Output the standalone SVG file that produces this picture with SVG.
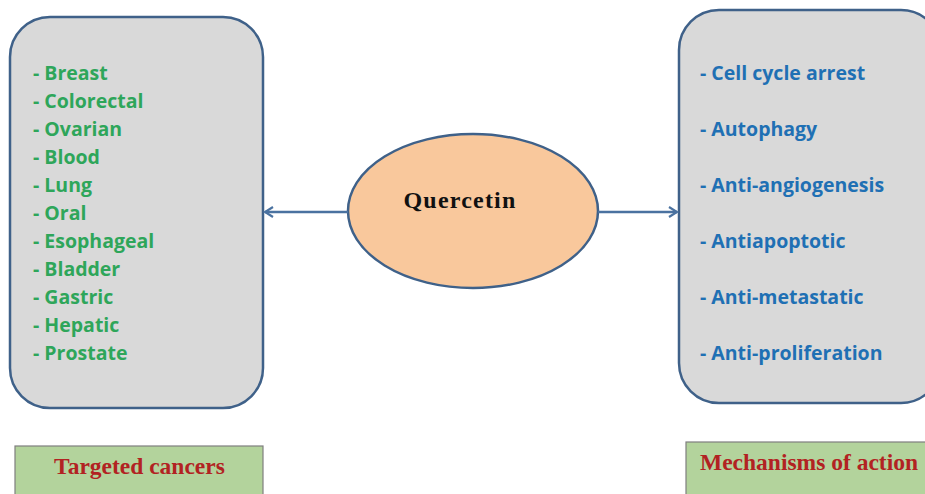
<svg xmlns="http://www.w3.org/2000/svg" width="925" height="494" viewBox="0 0 925 494">
  <defs>
    <style>
      .panel { fill: #d9d9d9; stroke: #3f6189; stroke-width: 2.5; }
      .tag { fill: #b3d39c; stroke: #7f7f7f; stroke-width: 1.2; }
      .green { font-family: "Open Sans", "Liberation Sans", sans-serif; font-weight: bold; font-size: 19.5px; fill: #2ea65a; }
      .blue { font-family: "Open Sans", "Liberation Sans", sans-serif; font-weight: bold; font-size: 19.5px; fill: #1f70b4; }
      .title { font-family: "Liberation Serif", serif; font-weight: bold; font-size: 23.5px; fill: #b22222; }
      .link { stroke: #4a72a0; stroke-width: 2.5; fill: none; }
    </style>
    <marker id="arrow" viewBox="0 0 12 12" refX="10" refY="6" markerWidth="12" markerHeight="12" markerUnits="userSpaceOnUse" orient="auto">
      <path d="M2,1 L10,6 L2,11" fill="none" stroke="#4a72a0" stroke-width="2.2"/>
    </marker>
  </defs>
  <rect width="925" height="494" fill="#ffffff"/>

  <g id="cancers">
    <rect class="panel" x="10" y="17" width="253" height="391" rx="40" ry="40"/>
    <text class="green" x="33" y="80">- Breast</text>
    <text class="green" x="33" y="108">- Colorectal</text>
    <text class="green" x="33" y="136">- Ovarian</text>
    <text class="green" x="33" y="164">- Blood</text>
    <text class="green" x="33" y="192">- Lung</text>
    <text class="green" x="33" y="220">- Oral</text>
    <text class="green" x="33" y="248">- Esophageal</text>
    <text class="green" x="33" y="276">- Bladder</text>
    <text class="green" x="33" y="304">- Gastric</text>
    <text class="green" x="33" y="332">- Hepatic</text>
    <text class="green" x="33" y="360">- Prostate</text>
  </g>

  <g id="mechanisms">
    <rect class="panel" x="679" y="10" width="262" height="393" rx="40" ry="40"/>
    <text class="blue" x="700" y="80">- Cell cycle arrest</text>
    <text class="blue" x="700" y="136">- Autophagy</text>
    <text class="blue" x="700" y="192">- Anti-angiogenesis</text>
    <text class="blue" x="700" y="248">- Antiapoptotic</text>
    <text class="blue" x="700" y="304">- Anti-metastatic</text>
    <text class="blue" x="700" y="360">- Anti-proliferation</text>
  </g>

  <g id="quercetin">
    <ellipse cx="473" cy="211" rx="125" ry="77" fill="#f9c89c" stroke="#3f6189" stroke-width="2.5"/>
    <text x="460" y="208" text-anchor="middle" font-family="Liberation Serif, serif" font-weight="bold" font-size="24" letter-spacing="1.2" fill="#111111">Quercetin</text>
  </g>

  <g id="connectors">
    <line class="link" x1="348" y1="212" x2="265" y2="212" marker-end="url(#arrow)"/>
    <line class="link" x1="598" y1="212" x2="677" y2="212" marker-end="url(#arrow)"/>
  </g>

  <g id="label-cancers">
    <rect class="tag" x="15" y="446" width="248" height="60"/>
    <text class="title" x="139.5" y="474" text-anchor="middle">Targeted cancers</text>
  </g>

  <g id="label-mechanisms">
    <rect class="tag" x="686" y="442" width="260" height="60"/>
    <text class="title" x="700" y="470">Mechanisms of action</text>
  </g>
</svg>
